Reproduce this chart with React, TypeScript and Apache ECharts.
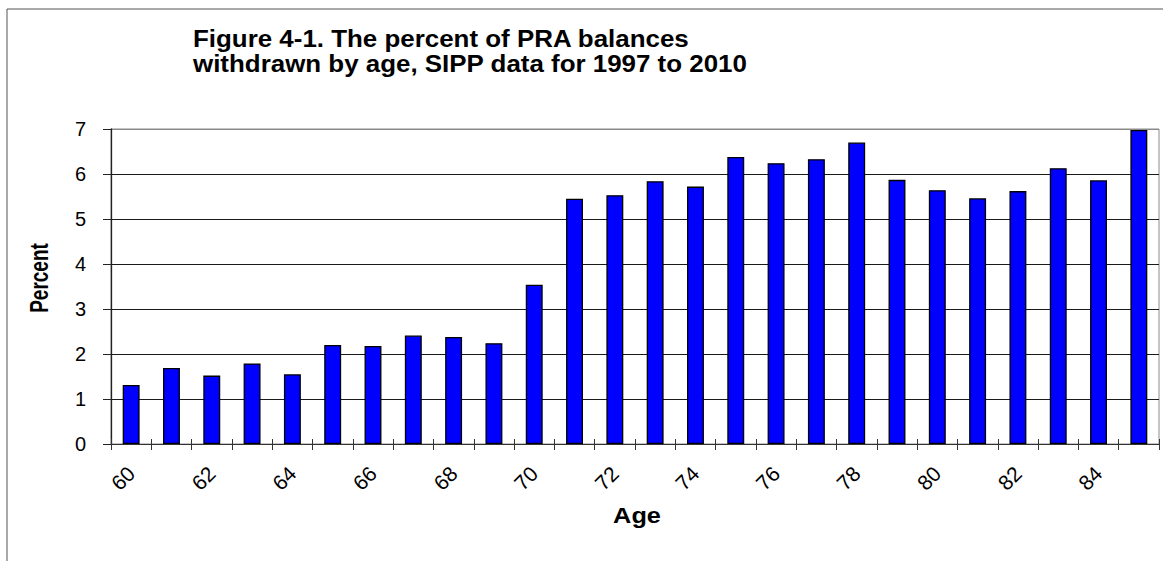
import React, { useEffect, useRef } from "react";
import * as echarts from "echarts";

// Age categories along the horizontal axis
const ages = [
  "60", "61", "62", "63", "64", "65", "66", "67", "68", "69", "70", "71", "72",
  "73", "74", "75", "76", "77", "78", "79", "80", "81", "82", "83", "84", "85",
];

// Percent of PRA balances withdrawn at each age
const percentWithdrawn = [
  1.31, 1.69, 1.52, 1.79, 1.55, 2.2, 2.18, 2.41, 2.38, 2.24, 3.54, 5.45, 5.53,
  5.84, 5.72, 6.38, 6.24, 6.33, 6.7, 5.87, 5.64, 5.46, 5.62, 6.13, 5.86, 6.98,
];

// Value axis range
const yMin = 0;
const yMax = 7;
const yStep = 1;

const titleLines = [
  "Figure 4-1. The percent of PRA balances",
  "withdrawn by age, SIPP data for 1997 to 2010",
];
const xAxisTitle = "Age";
const yAxisTitle = "Percent";

const FONT = "'Liberation Sans', Arial, sans-serif";

export default function App() {
  const ref = useRef<HTMLDivElement | null>(null);

  useEffect(() => {
    if (!ref.current) return;
    const chart = echarts.init(ref.current, undefined, { renderer: "svg" });

    // gridline colours: the top edge is lighter, like the plot frame
    const splitColors: string[] = [];
    for (let v = yMin; v <= yMax; v += yStep) {
      splitColors.push(v === yMax ? "#8a8a8a" : "#1a1a1a");
    }

    // two title lines, each its own text so they sit 24px apart
    const titleTexts = titleLines.map((line, i) => ({
      type: "text",
      x: 193,
      y: 38.5 + i * 24.5,
      scaleX: 1.08,
      style: {
        text: line,
        font: `bold 24px ${FONT}`,
        fill: "#000",
        align: "left",
        verticalAlign: "middle",
      },
    }));

    chart.setOption({
      animation: false,
      backgroundColor: "#ffffff",
      textStyle: { fontFamily: FONT },
      grid: {
        left: 111,
        right: 4,
        top: 129,
        bottom: 117,
        show: true,
        borderColor: "#8a8a8a",
        borderWidth: 1,
        backgroundColor: "transparent",
      },
      xAxis: [
        {
          type: "category",
          data: ages,
          position: "bottom",
          boundaryGap: true,
          axisLine: { show: true, lineStyle: { color: "#333", width: 1 } },
          axisTick: {
            show: true,
            interval: 0,
            length: 6,
            lineStyle: { color: "#333", width: 1 },
          },
          axisLabel: {
            interval: 1,
            rotate: 45,
            margin: 26,
            fontSize: 21,
            color: "#000",
            fontFamily: FONT,
          },
          splitLine: { show: false },
        },
        {
          // inward half of the crossing tick marks
          type: "category",
          data: ages,
          position: "bottom",
          boundaryGap: true,
          axisLine: { show: false },
          axisTick: {
            show: true,
            inside: true,
            interval: 0,
            length: 5,
            lineStyle: { color: "#333", width: 1 },
          },
          axisLabel: { show: false },
          splitLine: { show: false },
        },
      ],
      yAxis: {
        type: "value",
        min: yMin,
        max: yMax,
        interval: yStep,
        axisLine: { show: true, lineStyle: { color: "#222", width: 1.3 } },
        axisTick: { show: true, length: 8, lineStyle: { color: "#222", width: 1 } },
        axisLabel: {
          margin: 25,
          fontSize: 20,
          color: "#000",
          fontFamily: FONT,
        },
        splitLine: { show: true, lineStyle: { color: splitColors, width: 1 } },
      },
      series: [
        {
          type: "bar",
          xAxisIndex: 0,
          data: percentWithdrawn,
          barWidth: "42%",
          itemStyle: {
            color: "#0000ff",
            borderColor: "#000",
            borderWidth: 1.3,
          },
        },
      ],
      graphic: [
        {
          type: "rect",
          shape: { x: 7, y: 9, width: 1300, height: 700 },
          style: { fill: "none", stroke: "#555", lineWidth: 1 },
          silent: true,
        },
        ...titleTexts,
        {
          type: "text",
          x: 39,
          y: 278,
          rotation: Math.PI / 2,
          scaleX: 0.73,
          style: {
            text: yAxisTitle,
            font: `bold 26px ${FONT}`,
            fill: "#000",
            align: "center",
            verticalAlign: "middle",
          },
        },
        {
          type: "text",
          x: 637,
          y: 516,
          scaleX: 1.15,
          style: {
            text: xAxisTitle,
            font: `bold 22px ${FONT}`,
            fill: "#000",
            align: "center",
            verticalAlign: "middle",
          },
        },
      ],
    });

    return () => {
      chart.dispose();
    };
  }, []);

  return (
    <div
      ref={ref}
      style={{ position: "absolute", left: 0, top: 0, width: 1163, height: 561 }}
    />
  );
}
